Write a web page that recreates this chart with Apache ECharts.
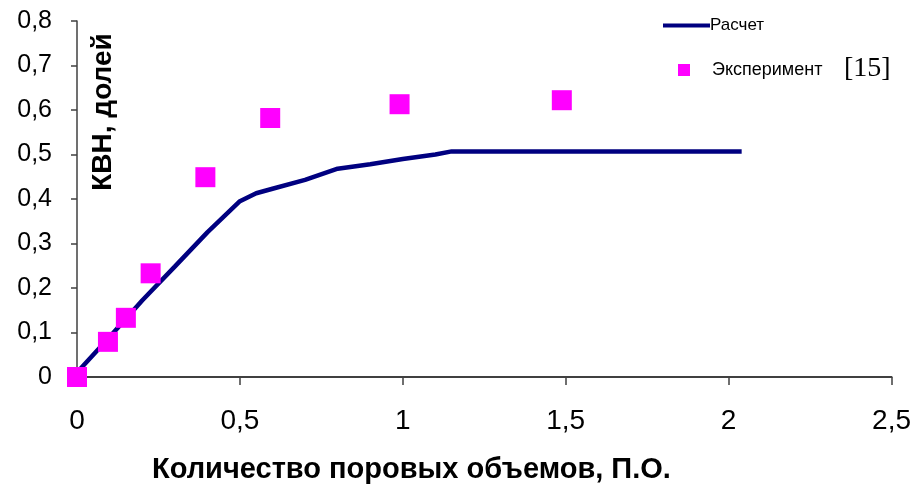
<!DOCTYPE html>
<html><head><meta charset="utf-8">
<script src="https://cdn.jsdelivr.net/npm/echarts@6/dist/echarts.min.js"></script>
<style>html,body{margin:0;padding:0;background:#fff}#c{width:914px;height:489px}</style>
</head><body><div id="c"></div>
<script>
// Data
const calcX = [0, 0.1, 0.2, 0.3, 0.4, 0.5, 0.55, 0.6, 0.7, 0.8, 0.9, 1.0, 1.1, 1.15, 2.04];
const calcY = [0.01, 0.09, 0.172, 0.248, 0.325, 0.395, 0.413, 0.423, 0.443, 0.468, 0.478, 0.49, 0.5, 0.507, 0.507];
const expX = [0, 0.095, 0.15, 0.226, 0.394, 0.593, 0.99, 1.488];
const expY = [0, 0.079, 0.133, 0.233, 0.449, 0.582, 0.613, 0.622];
const seriesNames = ['Расчет', 'Эксперимент'];
const refLabel = '[15]';
const xTitle = 'Количество поровых объемов, П.О.';
const yTitle = 'КВН, долей';

const comma = v => String(v).replace('.', ',');
const chart = echarts.init(document.getElementById('c'));
chart.setOption({
  animation: false,
  backgroundColor: '#fff',
  grid: {left: 77, right: 19, top: 21, bottom: 112},
  xAxis: {
    type: 'value', min: 0, max: 2.5, interval: 0.5,
    splitLine: {show: false},
    axisLine: {onZero: false, lineStyle: {color: '#404040', width: 2}},
    axisTick: {show: true, length: 8, lineStyle: {color: '#404040', width: 1.5}},
    axisLabel: {color: '#000', fontFamily: 'Liberation Sans, Arial', fontSize: 28, margin: 30, formatter: comma}
  },
  yAxis: {
    type: 'value', min: 0, max: 0.8, interval: 0.1,
    splitLine: {show: false},
    axisLine: {show: true, lineStyle: {color: '#404040', width: 1.5}},
    axisTick: {show: true, length: 6, lineStyle: {color: '#404040', width: 1.5}},
    axisLabel: {color: '#000', fontFamily: 'Liberation Sans, Arial', fontSize: 25, margin: 25,
      formatter: v => comma(Math.round(v * 10) / 10)}
  },
  legend: [
    {data: [{name: seriesNames[0], icon: 'rect', itemStyle: {color: '#000080'}}], left: 663, top: 17, padding: 0,
     itemWidth: 47, itemHeight: 4,
     textStyle: {fontFamily: 'Liberation Sans, Arial', fontSize: 17, color: '#000', padding: [0,0,0,-5]}},
    {data: [{name: seriesNames[1], icon: 'rect', itemStyle: {color: '#FF00FF', opacity: 1}}], left: 678, top: 61, padding: 0,
     itemWidth: 12, itemHeight: 12,
     textStyle: {fontFamily: 'Liberation Sans, Arial', fontSize: 18, color: '#000', padding: [0,0,0,17]}}
  ],
  graphic: [
    {type: 'text', left: 844, top: 55, style: {text: refLabel, font: '28px "Liberation Serif", "Times New Roman", serif', fill: '#000'}},
    {type: 'text', left: 152, top: 455, style: {text: xTitle, font: 'bold 29px "Liberation Sans", Arial', fill: '#000'}},
    {type: 'text', x: 103, y: 112, rotation: Math.PI / 2,
     style: {text: yTitle, font: 'bold 28px "Liberation Sans", Arial', fill: '#000', align: 'center', verticalAlign: 'middle'}}
  ],
  series: [
    {name: seriesNames[0], type: 'line', symbol: 'none', z: 2,
     lineStyle: {color: '#000080', width: 4.5}, itemStyle: {color: '#000080'},
     data: calcX.map((x, i) => [x, calcY[i]])},
    {name: seriesNames[1], type: 'scatter', symbol: 'rect', symbolSize: 20, z: 3,
     itemStyle: {color: '#FF00FF', opacity: 1},
     data: expX.map((x, i) => [x, expY[i]])}
  ]
});
</script></body></html>
